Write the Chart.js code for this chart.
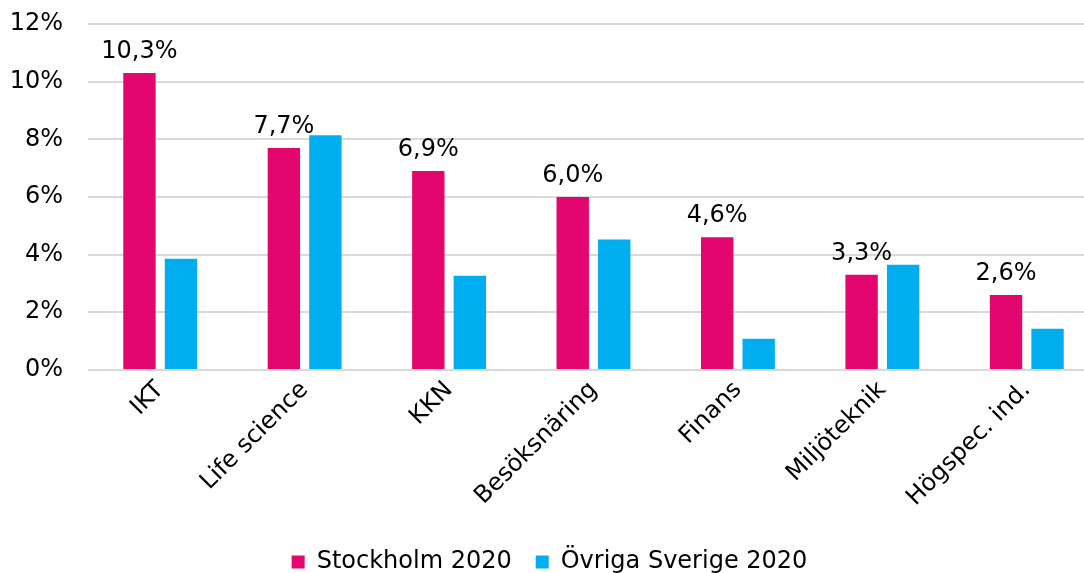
<!DOCTYPE html>
<html>
<head>
<meta charset="utf-8">
<script src="https://cdn.jsdelivr.net/npm/chart.js@4"></script>
<style>
html,body{margin:0;padding:0;background:#fff;overflow:hidden;width:1084px;height:573px;}
#wrap{position:absolute;left:0;top:0;width:1128px;height:573px;}
</style>
</head>
<body>
<div id="wrap"><canvas id="c"></canvas></div>
<script>
const categories = ['IKT','Life science','KKN','Besöksnäring','Finans','Miljöteknik','Högspec. ind.'];
const stockholm2020 = [10.3, 7.7, 6.9, 6.0, 4.6, 3.3, 2.6];
const ovrigaSverige2020 = [3.86, 8.14, 3.27, 4.52, 1.08, 3.65, 1.43];
const seriesNames = ['Stockholm 2020', 'Övriga Sverige 2020'];
const yTicks = [0, 2, 4, 6, 8, 10, 12];

const FONT = 'DejaVu Sans, Verdana, sans-serif';

const labelPlugin = {
  id: 'barLabels',
  afterDatasetsDraw(chart) {
    const ctx = chart.ctx;
    const meta = chart.getDatasetMeta(0);
    ctx.save();
    ctx.font = '24px ' + FONT;
    ctx.fillStyle = '#000';
    ctx.textAlign = 'center';
    ctx.textBaseline = 'alphabetic';
    meta.data.forEach((el, i) => {
      const v = chart.data.datasets[0].data[i];
      ctx.fillText(v.toFixed(1).replace('.', ',') + '%', el.x, el.y - 15);
    });
    ctx.restore();
  }
};

new Chart(document.getElementById('c'), {
  type: 'bar',
  data: {
    labels: categories,
    datasets: [
      { label: seriesNames[0], data: stockholm2020, backgroundColor: '#e2066e', categoryPercentage: 0.575, barPercentage: 0.78 },
      { label: seriesNames[1], data: ovrigaSverige2020, backgroundColor: '#00aeef', categoryPercentage: 0.575, barPercentage: 0.78 }
    ]
  },
  options: {
    responsive: true,
    maintainAspectRatio: false,
    animation: false,
    layout: { padding: { top: 24, right: 29, left: 0, bottom: -11 } },
    plugins: {
      tooltip: { enabled: false },
      legend: {
        position: 'bottom',
        labels: {
          font: { family: FONT, size: 24 },
          color: '#000',
          boxWidth: 13,
          boxHeight: 13,
          padding: 24
        }
      }
    },
    scales: {
      x: {
        grid: { display: false, drawTicks: false },
        border: { display: false },
        afterFit(scale) { scale.height = scale.height + 8; },
        ticks: {
          font: { family: FONT, size: 24 },
          color: '#000',
          maxRotation: 45,
          minRotation: 45,
          padding: 6,
          autoSkip: false
        }
      },
      y: {
        min: 0,
        max: 12,
        afterBuildTicks(scale) { scale.ticks = yTicks.map(v => ({ value: v })); },
        afterFit(scale) { scale.width = 88; scale.paddingTop = 0; scale.paddingBottom = 0; },
        grid: { color: '#d9d9d9', lineWidth: 2, drawTicks: false },
        border: { display: false },
        ticks: {
          font: { family: FONT, size: 24 },
          color: '#000',
          padding: 25,
          callback: v => v + '%'
        }
      }
    }
  },
  plugins: [labelPlugin]
});
</script>
</body>
</html>
